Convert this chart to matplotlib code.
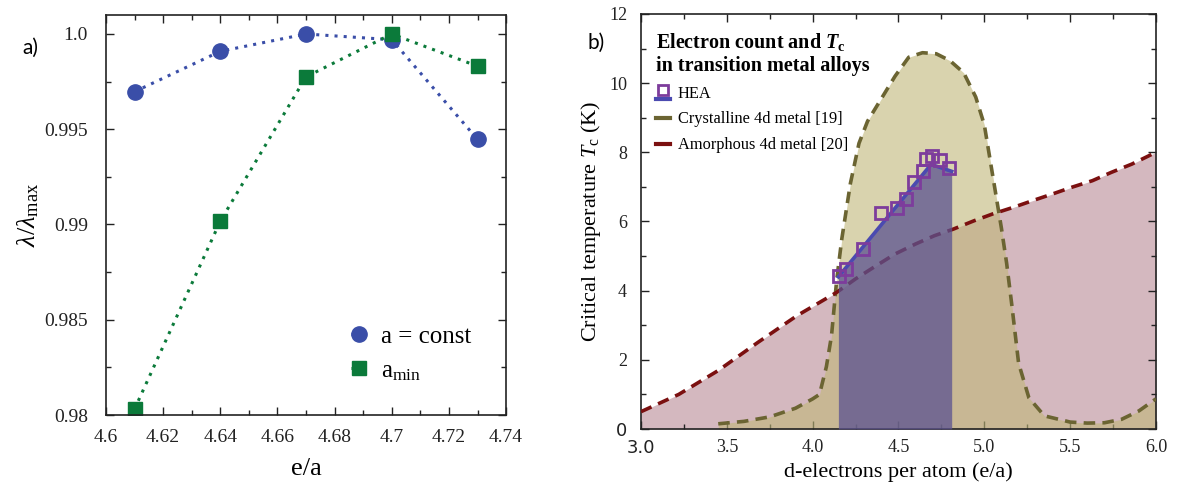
import matplotlib
matplotlib.use("Agg")
import matplotlib.pyplot as plt
from matplotlib.lines import Line2D
from matplotlib.legend_handler import HandlerBase
from matplotlib.ticker import MultipleLocator, FixedLocator

SERIF = ['Liberation Serif', 'DejaVu Serif']
plt.rcParams['font.family'] = SERIF
plt.rcParams['mathtext.fontset'] = 'custom'
plt.rcParams['mathtext.rm'] = 'Liberation Serif'
plt.rcParams['mathtext.it'] = 'Liberation Serif:italic'
plt.rcParams['mathtext.bf'] = 'Liberation Serif:bold'
plt.rcParams['mathtext.bfit'] = 'Liberation Serif:italic:bold'

# ---------------- data: panel a ----------------
ea = [4.61, 4.64, 4.67, 4.70, 4.73]
lam_const = [0.99697, 0.99909, 1.0, 0.9997, 0.99447]
lam_amin = [0.98031, 0.99017, 0.99775, 1.0, 0.99831]
a_xticks = [4.6, 4.62, 4.64, 4.66, 4.68, 4.7, 4.72, 4.74]
a_xticklabels = ["4.6", "4.62", "4.64", "4.66", "4.68", "4.7", "4.72", "4.74"]
a_yticks = [0.98, 0.985, 0.99, 0.995, 1.0]
a_yticklabels = ["0.98", "0.985", "0.99", "0.995", "1.0"]

# ---------------- data: panel b ----------------
cryst_x = [3.45, 3.6, 3.75, 3.9, 4.0, 4.04, 4.08, 4.11, 4.14, 4.17, 4.22, 4.27, 4.32,
           4.4, 4.48, 4.56, 4.64, 4.72, 4.8, 4.88, 4.95, 5.0, 5.05, 5.1, 5.13, 5.16,
           5.2, 5.26, 5.35, 5.5, 5.6, 5.7, 5.8, 5.9, 6.0]
cryst_y = [0.15, 0.22, 0.35, 0.6, 0.87, 1.0, 1.8, 2.7, 4.3, 5.5, 7.1, 8.26, 8.9,
           9.55, 10.2, 10.75, 10.88, 10.85, 10.65, 10.3, 9.6, 8.8, 7.3, 5.8, 4.8, 3.6,
           1.9, 0.9, 0.38, 0.2, 0.17, 0.18, 0.28, 0.52, 0.87]
amorph_x = [3.0, 3.22, 3.45, 3.68, 3.91, 4.02, 4.14, 4.25, 4.37, 4.48, 4.6, 4.71,
            4.82, 4.94, 5.05, 5.17, 5.28, 5.4, 5.51, 5.63, 5.74, 5.86, 6.0]
amorph_y = [0.5, 1.0, 1.69, 2.5, 3.28, 3.6, 3.95, 4.34, 4.72, 5.06, 5.35, 5.59,
            5.78, 6.02, 6.22, 6.41, 6.6, 6.8, 6.99, 7.18, 7.42, 7.66, 8.0]
hea_x = [4.153, 4.192, 4.295, 4.396, 4.489, 4.542, 4.59, 4.641, 4.658, 4.693, 4.743, 4.794]
hea_y = [4.42, 4.64, 5.20, 6.24, 6.40, 6.65, 7.14, 7.46, 7.80, 7.90, 7.78, 7.54]
fit_x = [4.15, 4.69, 4.81]
fit_y = [4.40, 7.65, 7.45]
b_xticks = [3.0, 3.5, 4.0, 4.5, 5.0, 5.5, 6.0]
b_xticklabels = ["3.0", "3.5", "4.0", "4.5", "5.0", "5.5", "6.0"]
b_yticks = [0, 2, 4, 6, 8, 10, 12]
b_yticklabels = ["0", "2", "4", "6", "8", "10", "12"]

BLUE = '#3a4ea8'
GREEN = '#0b7a3a'
OLIVE = '#6b6432'
DRED = '#7b1010'
PURPLE = '#7d3c9c'
FITBLUE = '#4b4ab0'

fig = plt.figure(figsize=(11.77, 4.82), dpi=100)
axa = fig.add_axes([0.090, 0.139, 0.340, 0.830])
axb = fig.add_axes([0.5446, 0.110, 0.4375, 0.861])


def style_axes(ax, lsize, xpad, ypad):
    for s in ax.spines.values():
        s.set_linewidth(1.2)
        s.set_color('#222222')
    ax.tick_params(which='both', direction='in', top=True, right=True,
                   labelsize=lsize, colors='#222222', width=1.0,
                   labelfontfamily='Liberation Serif')
    ax.tick_params(which='major', length=6)
    ax.tick_params(which='minor', length=3.5)
    ax.tick_params(axis='x', which='both', pad=xpad)
    ax.tick_params(axis='y', which='both', pad=ypad)


# ---------------- panel a ----------------
axa.plot(ea, lam_const, linestyle=(0, (1, 2)), lw=2.2, color=BLUE, marker='o',
         ms=11, mec=BLUE, mfc=BLUE, label='a = const')
axa.plot(ea, lam_amin, linestyle=(0, (1, 2)), lw=2.2, color=GREEN, marker='s',
         ms=10.5, mec=GREEN, mfc=GREEN, label=r'a$_{\mathrm{min}}$')
axa.set_xlim(4.6, 4.74)
axa.set_ylim(0.98, 1.001)
axa.xaxis.set_major_locator(FixedLocator(a_xticks))
axa.set_xticklabels(a_xticklabels)
axa.yaxis.set_major_locator(FixedLocator(a_yticks))
axa.set_yticklabels(a_yticklabels)
axa.xaxis.set_minor_locator(MultipleLocator(0.01))
axa.yaxis.set_minor_locator(MultipleLocator(0.0025))
style_axes(axa, 14, 10, 13)
axa.set_xlabel('e/a', fontsize=19, labelpad=9, family=SERIF)
axa.set_ylabel(r'$\lambda/\lambda_{\mathrm{max}}$', fontsize=19, labelpad=2)
leg = axa.legend(loc='lower right', bbox_to_anchor=(0.97, 0.025), frameon=False,
                 fontsize=18, handlelength=0.6, handletextpad=0.6, labelspacing=0.45)
fig.text(0.019, 0.90, 'a)', fontsize=15, family=['Lato', 'DejaVu Sans'], va='center')

# ---------------- panel b ----------------
axb.fill_between(amorph_x, amorph_y, 0, color='#d4b8bf', lw=0, zorder=1)
axb.fill_between(cryst_x, cryst_y, 0, color='#c0b778', alpha=0.6, lw=0, zorder=2)
axb.plot(cryst_x, cryst_y, color=OLIVE, lw=2.6, linestyle=(0, (3.2, 2.0)), zorder=3)
axb.plot(amorph_x, amorph_y, color=DRED, lw=2.6, linestyle=(0, (3.2, 2.0)), zorder=3)
axb.fill_between(fit_x, fit_y, 0, color='#5b5290', alpha=0.75, lw=0, zorder=4)
axb.plot(fit_x, fit_y, color=FITBLUE, lw=2.6, zorder=5)
axb.plot(hea_x, hea_y, linestyle='none', marker='s', ms=9, mfc='none', mec=PURPLE,
         mew=2.0, zorder=6)
axb.set_xlim(3.0, 6.0)
axb.set_ylim(0, 12)
axb.xaxis.set_major_locator(FixedLocator(b_xticks))
axb.set_xticklabels(b_xticklabels)
axb.yaxis.set_major_locator(FixedLocator(b_yticks))
axb.set_yticklabels(b_yticklabels)
axb.xaxis.set_minor_locator(MultipleLocator(0.25))
axb.yaxis.set_minor_locator(MultipleLocator(1))
style_axes(axb, 13, 7, 10)
axb.get_xticklabels()[0].set_family('DejaVu Sans')
axb.get_yticklabels()[0].set_family('DejaVu Sans')
axb.set_xlabel('d-electrons per atom (e/a)', fontsize=16, labelpad=4)
axb.set_ylabel(r'Critical temperature $T_{\mathrm{c}}$ (K)', fontsize=16, labelpad=4)


class HEAHandler(HandlerBase):
    def create_artists(self, legend, orig_handle, xdescent, ydescent, width, height,
                       fontsize, trans):
        x0, y0 = -xdescent, -ydescent
        ln = Line2D([x0, x0 + width], [y0 - 0.15 * height] * 2, color=FITBLUE, lw=3,
                    transform=trans)
        mk = Line2D([x0 + width / 2], [y0 + 0.65 * height], marker='s', ms=7,
                    mfc='none', mec=PURPLE, mew=2, linestyle='none', transform=trans)
        return [ln, mk]


hea_handle = Line2D([], [], color=FITBLUE)
cr_handle = Line2D([], [], color=OLIVE, lw=3)
am_handle = Line2D([], [], color=DRED, lw=3)
legb = axb.legend([hea_handle, cr_handle, am_handle],
                  ['HEA', 'Crystalline 4d metal [19]', 'Amorphous 4d metal [20]'],
                  handler_map={hea_handle: HEAHandler()},
                  loc='upper left', bbox_to_anchor=(0.0, 0.995), frameon=False,
                  fontsize=11.8, handlelength=0.9, handletextpad=0.45, labelspacing=0.6,
                  title='Electron count and $\\mathbfit{T}_{\\mathbf{c}}$\nin transition metal alloys',
                  title_fontproperties={'size': 14.5, 'weight': 'bold'},
                  alignment='left')
legb.set_zorder(10)
fig.text(0.4995, 0.912, 'b)', fontsize=15, family=['Lato', 'DejaVu Sans'], va='center')

fig.savefig('out.png', dpi=100)
